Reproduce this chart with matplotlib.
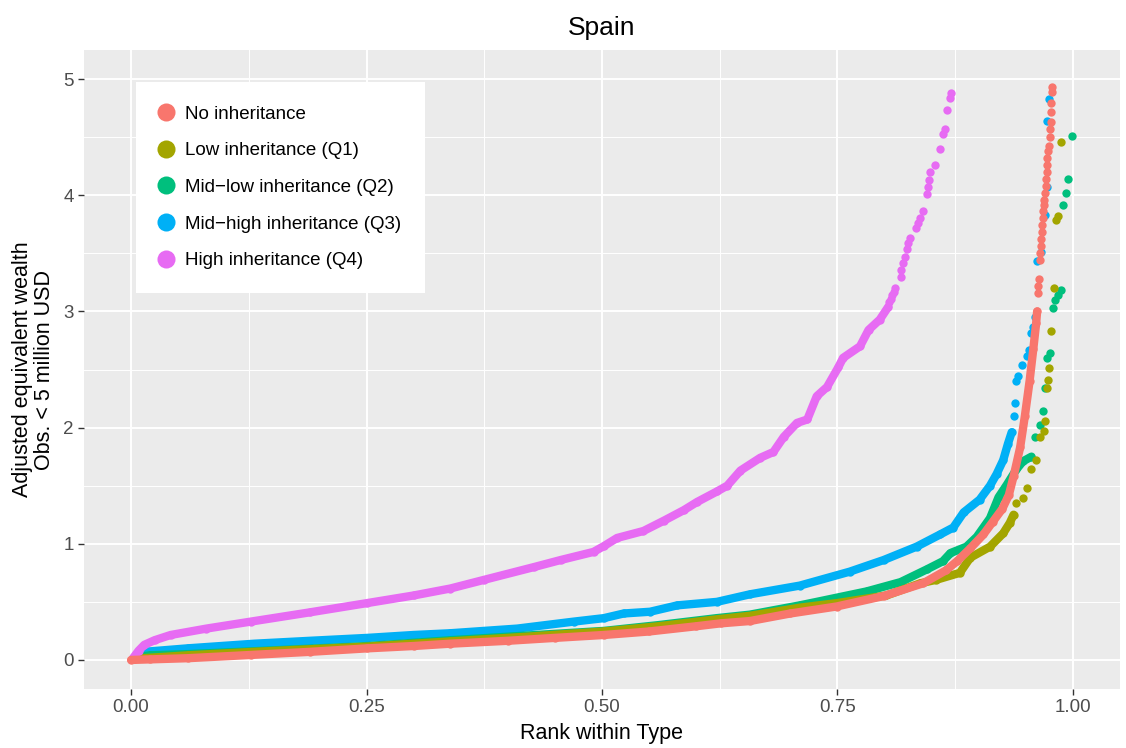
import matplotlib
matplotlib.use("Agg")
import matplotlib.pyplot as plt
from matplotlib.lines import Line2D

plt.rcParams["font.family"] = ["Liberation Sans", "DejaVu Sans"]

# ---------------------------------------------------------------------------
# Data (rank within type, wealth in million USD)
# "dense" parts are the runs where the dots overlap into a band,
# "tail" parts are the isolated dots at the top of each curve.
# ---------------------------------------------------------------------------
labels = [
    "No inheritance",
    "Low inheritance (Q1)",
    "Mid\u2212low inheritance (Q2)",
    "Mid\u2212high inheritance (Q3)",
    "High inheritance (Q4)",
]
colors = ["#F8766D", "#A3A500", "#00BF7D", "#00B0F6", "#E76BF3"]

none_x = [0.000, 0.02, 0.06, 0.127, 0.19, 0.251, 0.30, 0.339, 0.40, 0.45, 0.502,
          0.55, 0.60, 0.626, 0.657, 0.70, 0.749, 0.799, 0.841, 0.865, 0.877,
          0.891, 0.905, 0.915, 0.925, 0.932, 0.937, 0.944, 0.949, 0.954, 0.958,
          0.961, 0.962]
none_y = [0.00, 0.005, 0.015, 0.043, 0.07, 0.10, 0.12, 0.14, 0.165, 0.19, 0.215,
          0.245, 0.29, 0.315, 0.335, 0.40, 0.46, 0.55, 0.66, 0.77, 0.85,
          0.96, 1.08, 1.19, 1.30, 1.42, 1.58, 1.83, 2.10, 2.40, 2.68,
          2.90, 3.00]
none_tx = [0.963, 0.963, 0.964, 0.965, 0.965, 0.966, 0.966, 0.967, 0.967, 0.968,
           0.968, 0.969, 0.969, 0.970, 0.971, 0.971, 0.972, 0.973, 0.973, 0.974,
           0.975, 0.976, 0.976, 0.977, 0.977, 0.977, 0.978, 0.978]
none_ty = [3.16, 3.22, 3.28, 3.44, 3.50, 3.56, 3.62, 3.68, 3.74, 3.80,
           3.86, 3.92, 3.96, 4.02, 4.08, 4.14, 4.20, 4.26, 4.32, 4.38,
           4.42, 4.50, 4.57, 4.63, 4.72, 4.79, 4.89, 4.93]

q1_x = [0.003, 0.06, 0.13, 0.251, 0.339, 0.42, 0.502, 0.56, 0.622, 0.657, 0.71,
        0.75, 0.802, 0.838, 0.855, 0.880, 0.891, 0.912, 0.926, 0.933, 0.937]
q1_y = [0.01, 0.04, 0.07, 0.115, 0.16, 0.20, 0.245, 0.29, 0.35, 0.38, 0.45,
        0.49, 0.555, 0.66, 0.69, 0.75, 0.88, 0.975, 1.09, 1.18, 1.25]
q1_tx = [0.940, 0.947, 0.951, 0.956, 0.961, 0.965, 0.969, 0.970, 0.973, 0.974,
         0.975, 0.977, 0.980, 0.982, 0.984, 0.987]
q1_ty = [1.35, 1.39, 1.48, 1.64, 1.72, 1.92, 1.97, 2.06, 2.34, 2.41,
         2.51, 2.83, 3.20, 3.79, 3.82, 4.46]

q2_x = [0.003, 0.02, 0.06, 0.13, 0.251, 0.339, 0.42, 0.502, 0.56, 0.622, 0.657,
        0.71, 0.728, 0.781, 0.817, 0.845, 0.862, 0.870, 0.887, 0.898, 0.912,
        0.921, 0.930, 0.940, 0.947, 0.956]
q2_y = [0.02, 0.04, 0.05, 0.075, 0.12, 0.17, 0.21, 0.25, 0.30, 0.36, 0.39,
        0.47, 0.50, 0.59, 0.67, 0.78, 0.85, 0.92, 0.975, 1.06, 1.22,
        1.40, 1.51, 1.64, 1.71, 1.75]
q2_tx = [0.960, 0.965, 0.968, 0.970, 0.973, 0.976, 0.979, 0.981, 0.984, 0.987,
         0.990, 0.993, 0.995, 0.999]
q2_ty = [1.92, 2.02, 2.14, 2.34, 2.60, 2.64, 3.03, 3.10, 3.14, 3.18,
         3.92, 4.02, 4.14, 4.51]

q3_x = [0.005, 0.014, 0.06, 0.131, 0.19, 0.251, 0.30, 0.339, 0.41, 0.47, 0.502,
        0.523, 0.551, 0.58, 0.622, 0.657, 0.71, 0.763, 0.799, 0.834, 0.859,
        0.873, 0.884, 0.901, 0.912, 0.919, 0.926, 0.931, 0.935]
q3_y = [0.03, 0.07, 0.10, 0.14, 0.165, 0.19, 0.215, 0.23, 0.27, 0.33, 0.36,
        0.40, 0.415, 0.47, 0.50, 0.565, 0.64, 0.76, 0.86, 0.975, 1.08,
        1.14, 1.27, 1.38, 1.50, 1.60, 1.72, 1.86, 1.96]
q3_tx = [0.937, 0.939, 0.940, 0.942, 0.946, 0.951, 0.953, 0.956, 0.958, 0.960,
         0.962, 0.966, 0.970, 0.972, 0.973, 0.975]
q3_ty = [2.10, 2.21, 2.40, 2.44, 2.54, 2.62, 2.67, 2.81, 2.87, 2.95,
         3.43, 3.51, 3.83, 4.07, 4.64, 4.83]

q4_x = [0.002, 0.008, 0.014, 0.025, 0.042, 0.08, 0.127, 0.19, 0.251, 0.30,
        0.339, 0.375, 0.428, 0.456, 0.491, 0.502, 0.516, 0.544, 0.566, 0.587,
        0.601, 0.622, 0.633, 0.647, 0.668, 0.682, 0.693, 0.707, 0.718, 0.728,
        0.739, 0.751, 0.756, 0.774, 0.783, 0.795, 0.804]
q4_y = [0.015, 0.08, 0.13, 0.17, 0.215, 0.27, 0.33, 0.41, 0.49, 0.555,
        0.615, 0.69, 0.80, 0.86, 0.93, 0.98, 1.05, 1.11, 1.20, 1.29,
        1.36, 1.45, 1.50, 1.63, 1.74, 1.79, 1.92, 2.04, 2.07, 2.27,
        2.35, 2.52, 2.60, 2.70, 2.84, 2.93, 3.04]
q4_tx = [0.805, 0.807, 0.808, 0.810, 0.811, 0.817, 0.818, 0.820, 0.822, 0.824,
         0.825, 0.827, 0.833, 0.836, 0.838, 0.841, 0.845, 0.846, 0.847, 0.848,
         0.854, 0.859, 0.862, 0.864, 0.866, 0.869, 0.871]
q4_ty = [3.08, 3.11, 3.14, 3.17, 3.20, 3.30, 3.36, 3.42, 3.47, 3.54,
         3.59, 3.63, 3.72, 3.76, 3.80, 3.86, 4.01, 4.07, 4.13, 4.20,
         4.26, 4.40, 4.53, 4.57, 4.73, 4.84, 4.88]

series = [
    (none_x, none_y, none_tx, none_ty),
    (q1_x, q1_y, q1_tx, q1_ty),
    (q2_x, q2_y, q2_tx, q2_ty),
    (q3_x, q3_y, q3_tx, q3_ty),
    (q4_x, q4_y, q4_tx, q4_ty),
]
draw_order = [3, 2, 1, 4, 0]  # red ends up on top, like the reference

x_ticks = [0.00, 0.25, 0.50, 0.75, 1.00]
y_ticks = [0, 1, 2, 3, 4, 5]

# ---------------------------------------------------------------------------
# Figure
# ---------------------------------------------------------------------------
W, H = 1126, 748
fig = plt.figure(figsize=(W / 100, H / 100), dpi=100)
ax = fig.add_axes([84 / W, (H - 689) / H, 1036 / W, 639 / H])
ax.set_facecolor("#EBEBEB")

DOT = 36        # scatter size (pt^2), ~8 px dot
BAND = 6.0      # band width in pt, same as dot diameter

for i in draw_order:
    x, y, tx, ty = series[i]
    ax.plot(x, y, color=colors[i], lw=BAND, solid_capstyle="round",
            solid_joinstyle="round", zorder=2)
    ax.scatter(x, y, s=DOT, color=colors[i], linewidths=0, zorder=2)
    ax.scatter(tx, ty, s=DOT, color=colors[i], linewidths=0, zorder=2)

ax.set_xlim(-0.05, 1.05)
ax.set_ylim(-0.25, 5.25)
ax.set_xticks(x_ticks)
ax.set_xticklabels([f"{v:.2f}" for v in x_ticks])
ax.set_yticks(y_ticks)
ax.set_yticklabels([str(v) for v in y_ticks])
ax.set_xticks([0.125, 0.375, 0.625, 0.875], minor=True)
ax.set_yticks([0.5, 1.5, 2.5, 3.5, 4.5], minor=True)

ax.grid(which="major", color="white", lw=1.4)
ax.grid(which="minor", color="white", lw=0.7)
ax.set_axisbelow(True)
for s in ax.spines.values():
    s.set_visible(False)
ax.tick_params(which="major", length=4.3, width=1.0, color="#333333",
               labelcolor="#4D4D4D", labelsize=13.5, pad=3)
ax.tick_params(which="minor", length=0)

ax.set_xlabel("Rank within Type", fontsize=15.5, color="black", labelpad=5)
ax.set_ylabel("Adjusted equivalent wealth\nObs. < 5 million USD",
              fontsize=15.5, color="black", labelpad=6, linespacing=1.05)
ax.set_title("Spain", fontsize=19, color="black", pad=11)

handles = [Line2D([], [], ls="none", marker="o", markersize=13,
                  markerfacecolor=c, markeredgewidth=0) for c in colors]
leg = ax.legend(handles, labels, loc="upper left",
                bbox_to_anchor=(0.0502, 0.9499), borderaxespad=0,
                fontsize=13.5, frameon=True, fancybox=False,
                borderpad=1.26, handlelength=0.68, handletextpad=0.67,
                labelspacing=1.04)
leg.get_frame().set_facecolor("white")
leg.get_frame().set_edgecolor("none")
leg.get_frame().set_alpha(1)

fig.savefig("out.png", dpi=100, facecolor="white")
